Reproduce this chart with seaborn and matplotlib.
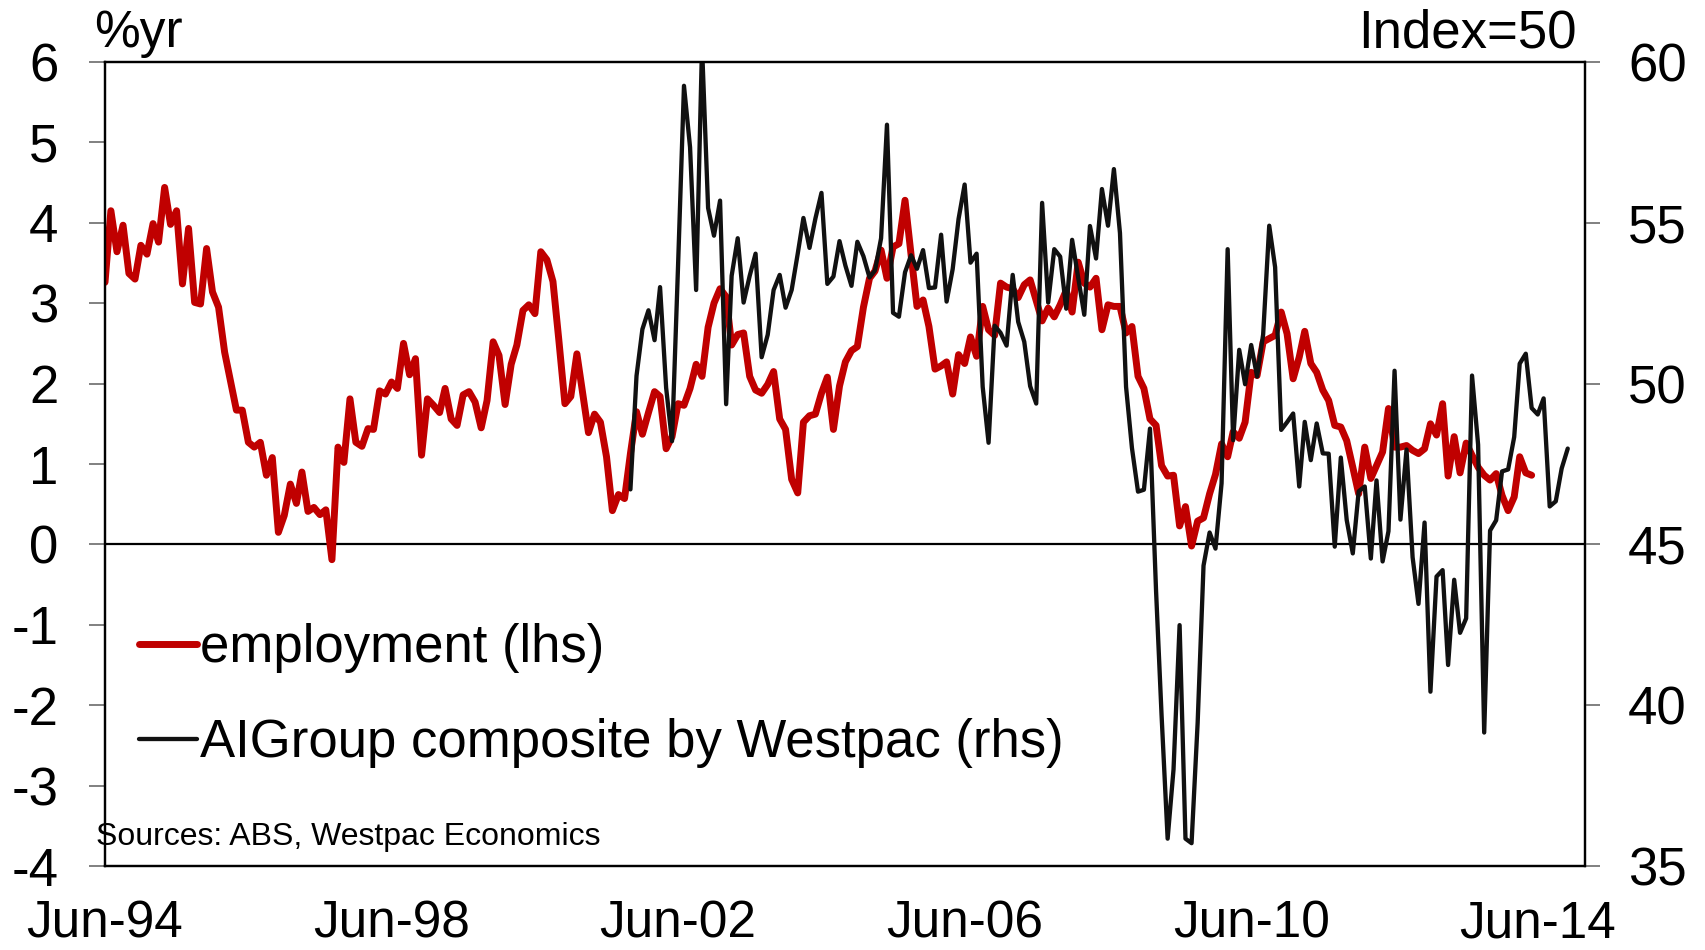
import matplotlib
matplotlib.use("Agg")
import matplotlib.pyplot as plt
import numpy as np
import pandas as pd
import seaborn as sns

# employment, %yr, monthly from Jun-94
EMP_START = "1994-06-01"
emp = [
    3.26, 4.15, 3.64, 3.97, 3.37, 3.30, 3.72, 3.61, 3.99, 3.76, 4.44, 3.98,
    4.15, 3.24, 3.93, 3.01, 2.99, 3.68, 3.14, 2.95, 2.39, 2.04, 1.67, 1.67,
    1.27, 1.21, 1.27, 0.86, 1.08, 0.15, 0.36, 0.75, 0.51, 0.90, 0.41, 0.46,
    0.37, 0.43, -0.19, 1.21, 1.02, 1.81, 1.27, 1.22, 1.44, 1.43, 1.91, 1.87,
    2.02, 1.94, 2.50, 2.11, 2.31, 1.11, 1.81, 1.73, 1.64, 1.94, 1.56, 1.48,
    1.86, 1.90, 1.77, 1.45, 1.79, 2.52, 2.35, 1.74, 2.24, 2.48, 2.91, 2.98,
    2.87, 3.64, 3.54, 3.27, 2.54, 1.75, 1.84, 2.37, 1.86, 1.39, 1.62, 1.52,
    1.09, 0.42, 0.62, 0.57, 1.13, 1.65, 1.37, 1.64, 1.90, 1.84, 1.19, 1.34,
    1.75, 1.73, 1.94, 2.24, 2.09, 2.70, 3.00, 3.18, 3.08, 2.48, 2.61, 2.63,
    2.09, 1.92, 1.88, 1.99, 2.15, 1.56, 1.43, 0.81, 0.64, 1.52, 1.60, 1.62,
    1.88, 2.08, 1.43, 1.97, 2.27, 2.41, 2.46, 2.95, 3.31, 3.40, 3.66, 3.31,
    3.70, 3.74, 4.28, 3.60, 2.96, 3.04, 2.71, 2.18, 2.22, 2.27, 1.87, 2.36,
    2.25, 2.58, 2.34, 2.96, 2.67, 2.60, 3.25, 3.20, 3.18, 3.07, 3.23, 3.29,
    3.03, 2.78, 2.94, 2.83, 2.98, 3.16, 2.89, 3.51, 3.25, 3.20, 3.31, 2.67,
    2.98, 2.96, 2.96, 2.63, 2.71, 2.09, 1.94, 1.56, 1.48, 0.98, 0.85, 0.86,
    0.23, 0.47, -0.02, 0.29, 0.33, 0.63, 0.87, 1.25, 1.09, 1.40, 1.32, 1.52,
    2.14, 2.10, 2.52, 2.56, 2.60, 2.89, 2.62, 2.06, 2.33, 2.65, 2.25, 2.14,
    1.92, 1.79, 1.48, 1.46, 1.29, 0.96, 0.63, 1.21, 0.82, 0.98, 1.15, 1.69,
    1.21, 1.21, 1.23, 1.17, 1.13, 1.19, 1.50, 1.36, 1.75, 0.85, 1.34, 0.89,
    1.26, 1.11, 0.96, 0.86, 0.80, 0.88, 0.61, 0.42, 0.59, 1.09, 0.89, 0.86,
]

# AIGroup composite index, monthly from Oct-01
AIG_START = "2001-10-01"
aig = [
    46.71, 50.24, 51.69, 52.28, 51.35, 53.00, 49.87, 48.21, 53.70, 59.26,
    57.35, 52.91, 60.50, 55.46, 54.60, 55.69, 49.36, 53.35, 54.52, 52.52,
    53.35, 54.04, 50.82, 51.52, 52.91, 53.38, 52.36, 52.91, 54.04, 55.15,
    54.22, 55.13, 55.93, 53.10, 53.33, 54.43, 53.67, 53.04, 54.41, 53.96,
    53.30, 53.52, 54.52, 58.05, 52.20, 52.08, 53.46, 53.99, 53.57, 54.15,
    52.97, 52.99, 54.63, 52.55, 53.56, 55.12, 56.19, 53.76, 54.04, 49.90,
    48.16, 51.80, 51.58, 51.18, 53.38, 51.92, 51.30, 49.92, 49.38, 55.62,
    52.52, 54.18, 53.95, 52.33, 54.47, 53.29, 52.14, 54.90, 53.89, 56.05,
    54.91, 56.67, 54.68, 49.90, 48.00, 46.64, 46.70, 48.60, 43.55, 39.70,
    35.85, 38.00, 42.49, 35.85, 35.71, 39.45, 44.34, 45.37, 44.87, 46.90,
    54.18, 48.24, 51.05, 49.98, 51.20, 50.22, 51.53, 54.91, 53.62, 48.56,
    48.80, 49.07, 46.80, 48.81, 47.62, 48.76, 47.83, 47.82, 44.93, 47.70,
    45.76, 44.72, 46.65, 46.80, 44.56, 46.99, 44.47, 45.41, 50.40, 45.77,
    47.95, 44.60, 43.15, 45.68, 40.42, 44.00, 44.20, 41.25, 43.90, 42.25,
    42.70, 50.25, 48.10, 39.15, 45.43, 45.75, 47.27, 47.33, 48.34, 50.62,
    50.93, 49.24, 49.04, 49.54, 46.18, 46.34, 47.36, 47.98,
]

x_ticks = ["1994-06-01", "1998-06-01", "2002-06-01", "2006-06-01", "2010-06-01", "2014-06-01"]
x_labels = ["Jun-94", "Jun-98", "Jun-02", "Jun-06", "Jun-10", "Jun-14"]
left_ticks = [-4, -3, -2, -1, 0, 1, 2, 3, 4, 5, 6]
right_ticks = [35, 40, 45, 50, 55, 60]

RED, BLACK = "#c00000", "#111111"

sns.set_style("white")
plt.rcParams["font.family"] = ["Liberation Sans", "DejaVu Sans"]
plt.rcParams["text.color"] = "black"

emp_df = pd.DataFrame({"date": pd.date_range(EMP_START, periods=len(emp), freq="MS"), "v": emp})
aig_df = pd.DataFrame({"date": pd.date_range(AIG_START, periods=len(aig), freq="MS"), "v": aig})

fig = plt.figure(figsize=(17.05, 9.5), dpi=100)
ax = fig.add_axes([105 / 1705, 84 / 950, 1480 / 1705, 804 / 950])
ax2 = ax.twinx()

ax.axhline(0, color="black", lw=1.6, zorder=1)
sns.lineplot(data=emp_df, x="date", y="v", ax=ax, color=RED, lw=5.0, label="employment (lhs)", legend=False)
sns.lineplot(data=aig_df, x="date", y="v", ax=ax2, color=BLACK, lw=3.1,
             label="AIGroup composite by Westpac (rhs)", legend=False)

ax.set_ylim(-4, 6)
ax2.set_ylim(35, 60)
ax.set_xlim(pd.Timestamp("1994-06-01"), pd.Timestamp("2015-01-28"))
ax.set_yticks(left_ticks)
ax.set_yticklabels([str(t) for t in left_ticks])
ax2.set_yticks(right_ticks)
ax.set_xticks(pd.to_datetime(x_ticks))
ax.set_xticklabels(x_labels)
ax.set_xlabel("")
ax.set_ylabel("")
ax2.set_ylabel("")

for a in (ax, ax2):
    for s in a.spines.values():
        s.set_color("black")
        s.set_linewidth(1.6)
ax.tick_params(axis="y", direction="out", length=11.5, width=1.4, color="#808080", pad=22,
               labelsize=38, labelcolor="black")
ax.tick_params(axis="x", direction="out", length=11, width=1.0, color="#a0a0a0", pad=13,
               labelsize=37, labelcolor="black")
ax2.tick_params(axis="y", direction="out", length=11, width=1.4, color="#808080", pad=20,
                labelsize=38, labelcolor="black")

handles = ax.get_lines()[1:] + ax2.get_lines()
ax2.legend(handles, [h.get_label() for h in handles], loc="upper left",
           bbox_to_anchor=(0.023, 0.302), frameon=False, fontsize=38,
           handlelength=1.1, handletextpad=0.05, labelspacing=0.85,
           borderpad=0, borderaxespad=0, labelcolor="black")

fig.text(94 / 1705, 1 - 47 / 950, "%yr", fontsize=37, ha="left", va="baseline")
fig.text(1577 / 1705, 1 - 47 / 950, "Index=50", fontsize=38, ha="right", va="baseline")
fig.text(96 / 1705, 1 - 837 / 950, "Sources: ABS, Westpac Economics", fontsize=23, ha="left", va="center")

fig.savefig("out.png", dpi=100)
